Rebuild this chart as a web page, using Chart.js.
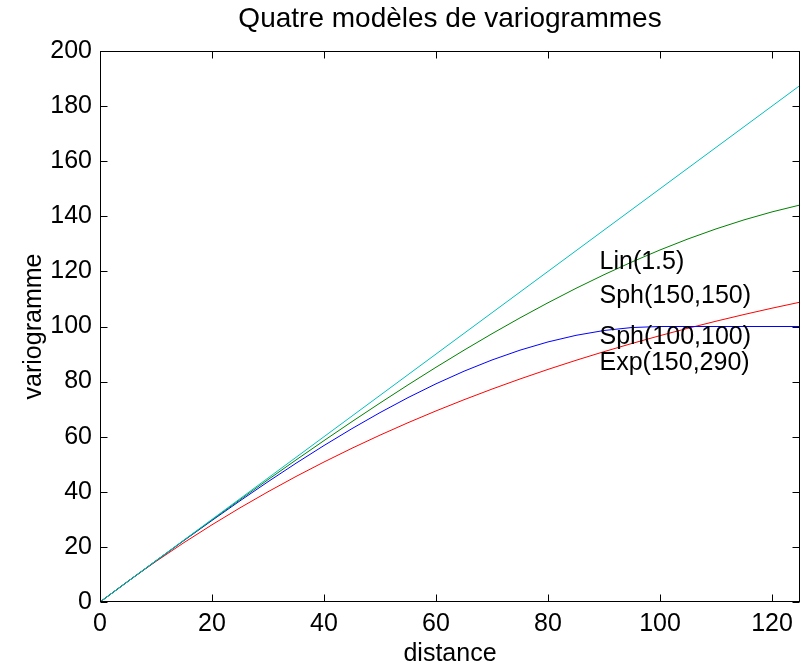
<!DOCTYPE html>
<html>
<head>
<meta charset="utf-8">
<title>Quatre modèles de variogrammes</title>
<script src="https://cdn.jsdelivr.net/npm/chart.js@4.4.1/dist/chart.umd.min.js"></script>
<style>
  html, body { margin: 0; padding: 0; background: #fff; }
</style>
</head>
<body>
<canvas id="variogramChart" width="806" height="668"></canvas>
<script>
var FONT = '"Liberation Sans", Arial, Helvetica, sans-serif';

// distance (lag) values
var distances = [0, 5, 10, 15, 20, 25, 30, 35, 40, 45, 50, 55, 60,
                 65, 70, 75, 80, 85, 90, 95, 100, 105, 110, 115, 120, 125];

// Lin(1.5)
var linVals = [0, 7.5, 15, 22.5, 30, 37.5, 45, 52.5, 60, 67.5, 75, 82.5, 90,
               97.5, 105, 112.5, 120, 127.5, 135, 142.5, 150, 157.5, 165, 172.5, 180, 187.5];

// Sph(150,150)
var sph150Vals = [0, 7.5, 14.98, 22.43, 29.82, 37.15, 44.4, 51.55, 58.58, 65.48, 72.22, 78.8, 85.2,
                  91.4, 97.38, 103.13, 108.62, 113.85, 118.8, 123.45, 127.78, 131.78, 135.42, 138.7, 141.6, 144.1];

// Sph(100,100)
var sph100Vals = [0, 7.49, 14.95, 22.33, 29.6, 36.72, 43.65, 50.36, 56.8, 62.94, 68.75, 74.18, 79.2,
                  83.77, 87.85, 91.41, 94.4, 96.79, 98.55, 99.63, 100, 100, 100, 100, 100, 100];

// Exp(150,290)
var expVals = [0, 7.56, 14.74, 21.56, 28.03, 34.18, 40.01, 45.56, 50.82, 55.82, 60.57, 65.08, 69.36,
               73.42, 77.28, 80.95, 84.43, 87.73, 90.87, 93.85, 96.68, 99.37, 101.92, 104.35, 106.65, 108.83];

var modelNames = ['Lin(1.5)', 'Sph(150,150)', 'Sph(100,100)', 'Exp(150,290)'];

// where each model name is written, in data units
var nameX = [89.2, 89.2, 89.2, 89.2];
var nameY = [123.2, 110.9, 96.2, 86.6];

function toPoints(vals) {
  return distances.map(function (d, i) { return { x: d, y: vals[i] }; });
}

// box around the plot with inward tick marks on all four sides, plus the model names
var matlabFrame = {
  id: 'matlabFrame',
  afterDraw: function (chart) {
    var ctx = chart.ctx;
    var a = chart.chartArea;
    var xs = chart.scales.x, ys = chart.scales.y;
    var L = Math.round(a.left) + 0.5, R = Math.round(a.right) - 0.5;
    var T = Math.round(a.top) + 0.5, B = Math.round(a.bottom) - 0.5;
    var tick = 7;

    ctx.save();
    ctx.strokeStyle = '#000';
    ctx.lineWidth = 1;
    ctx.strokeRect(L, T, R - L, B - T);

    ctx.beginPath();
    xs.ticks.forEach(function (t) {
      var px = Math.round(xs.getPixelForValue(t.value)) + 0.5;
      ctx.moveTo(px, B); ctx.lineTo(px, B - tick);
      ctx.moveTo(px, T); ctx.lineTo(px, T + tick);
    });
    ys.ticks.forEach(function (t) {
      var py = Math.round(ys.getPixelForValue(t.value)) + 0.5;
      ctx.moveTo(L, py); ctx.lineTo(L + tick, py);
      ctx.moveTo(R, py); ctx.lineTo(R - tick, py);
    });
    ctx.stroke();

    ctx.fillStyle = '#000';
    ctx.font = '25px ' + FONT;
    ctx.textAlign = 'left';
    ctx.textBaseline = 'middle';
    modelNames.forEach(function (name, i) {
      ctx.fillText(name, xs.getPixelForValue(nameX[i]), ys.getPixelForValue(nameY[i]));
    });
    ctx.restore();
  }
};

var ctx = document.getElementById('variogramChart').getContext('2d');
var myChart = new Chart(ctx, {
  type: 'line',
  data: {
    datasets: [
      { label: modelNames[0], data: toPoints(linVals), borderColor: 'rgb(0,191,191)' },
      { label: modelNames[1], data: toPoints(sph150Vals), borderColor: 'rgb(0,128,0)' },
      { label: modelNames[2], data: toPoints(sph100Vals), borderColor: 'rgb(0,0,255)' },
      { label: modelNames[3], data: toPoints(expVals), borderColor: 'rgb(255,0,0)' },
    ],
  },
  options: {
    responsive: false,
    animation: false,
    layout: { padding: { right: 6 } },
    elements: {
      point: { radius: 0 },
      line: { borderWidth: 1, tension: 0, fill: false },
    },
    scales: {
      x: {
        type: 'linear',
        min: 0,
        max: 125,
        afterFit: function (scale) { scale.height = 66; },
        grid: { display: false, drawTicks: false },
        border: { display: false },
        ticks: {
          stepSize: 20,
          includeBounds: false,
          padding: 7,
          color: '#000',
          font: { family: FONT, size: 25 },
        },
        title: {
          display: true,
          text: 'distance',
          color: '#000',
          font: { family: FONT, size: 25, lineHeight: 1 },
          padding: { top: 0, bottom: 1 },
        },
      },
      y: {
        min: 0,
        max: 200,
        afterFit: function (scale) { scale.width = 100; },
        grid: { display: false, drawTicks: false },
        border: { display: false },
        ticks: {
          stepSize: 20,
          padding: 8,
          color: '#000',
          font: { family: FONT, size: 25 },
        },
        title: {
          display: true,
          text: 'variogramme',
          color: '#000',
          font: { family: FONT, size: 25, lineHeight: 1 },
          padding: { top: 21.8, bottom: 0 },
        },
      },
    },
    plugins: {
      legend: { display: false },
      tooltip: { enabled: false },
      title: {
        display: true,
        text: 'Quatre modèles de variogrammes',
        fullSize: false,
        color: '#000',
        font: { family: FONT, size: 28, weight: 'normal', lineHeight: 1 },
        padding: { top: 5.6, bottom: 17.4 },
      },
    },
  },
  plugins: [matlabFrame],
});
</script>
</body>
</html>
